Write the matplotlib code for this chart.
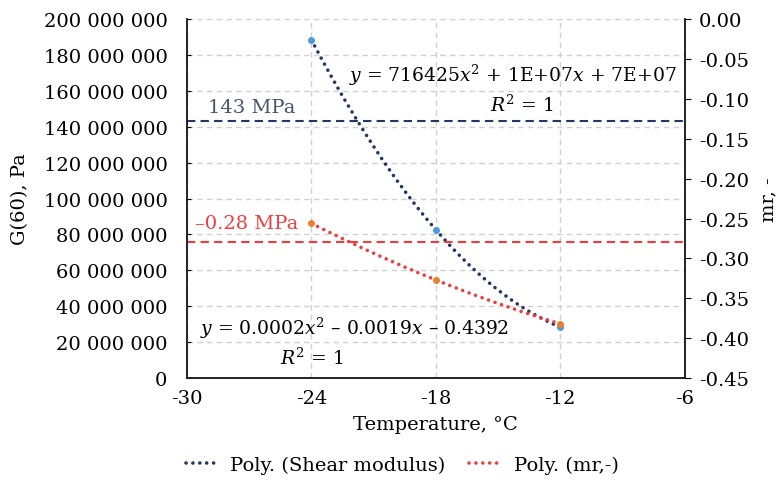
import numpy as np
import matplotlib
matplotlib.use('Agg')
from matplotlib import pyplot as plt
from matplotlib.lines import Line2D
from matplotlib.ticker import FuncFormatter, MultipleLocator

# data
temps = [-24, -18, -12]
shear = [188.5e6, 82.6e6, 28.4e6]     # G(60), Pa
mr = [-0.256, -0.327, -0.382]         # mr, -
shear_ref = 143e6
mr_ref = -0.28

navy = '#203864'
red = '#f23c3c'

plt.rcParams['font.family'] = ['DejaVu Serif']
plt.rcParams['mathtext.fontset'] = 'dejavuserif'
plt.rcParams['font.size'] = 13.5
plt.rcParams['axes.unicode_minus'] = False

fig = plt.figure(figsize=(7.79, 4.81), dpi=100)
ax = fig.add_axes([0.240, 0.212, 0.639, 0.746])
ax2 = ax.twinx()

ax.set_xlim(-30, -6)
ax.set_ylim(0, 200e6)
ax2.set_ylim(-0.45, 0)
ax.xaxis.set_major_locator(MultipleLocator(6))
ax.yaxis.set_major_locator(MultipleLocator(20e6))
ax2.yaxis.set_major_locator(MultipleLocator(0.05))
ax.yaxis.set_major_formatter(FuncFormatter(lambda v, p: '{:,.0f}'.format(v).replace(',', ' ')))
ax2.yaxis.set_major_formatter(FuncFormatter(lambda v, p: '%.2f' % v))

ax.grid(True, color='#d0d0d0', linestyle=(0, (4, 3)), linewidth=1)
ax.set_axisbelow(True)
for a in (ax, ax2):
    a.spines['top'].set_visible(False)
    for s in ('left', 'right', 'bottom'):
        a.spines[s].set_color('#222222')
        a.spines[s].set_linewidth(1.2)
ax.tick_params(axis='x', length=0, pad=8, labelsize=14)
ax.tick_params(axis='y', direction='in', length=3, pad=14, labelsize=14)
ax2.tick_params(axis='y', direction='out', length=4, pad=6, labelsize=14)

# polynomial trendlines (order 2)
xs = np.linspace(temps[0], temps[-1], 200)
p1 = np.polyfit(temps, shear, 2)
p2 = np.polyfit(temps, mr, 2)
dots = (0, (0.01, 1.9))
ax.plot(xs, np.polyval(p1, xs), color=navy, lw=2.6, linestyle=dots, dash_capstyle='round', zorder=3)
ax2.plot(xs, np.polyval(p2, xs), color=red, lw=2.6, linestyle=dots, dash_capstyle='round', zorder=3)
ax.plot(temps, shear, 'o', color='#4e9ad6', ms=4, zorder=4)
ax2.plot(temps, mr, 'o', color='#ed7d31', ms=4, zorder=4)

# reference levels
ax.axhline(shear_ref, color=navy, lw=1.5, dashes=(4, 2.5))
ax2.axhline(mr_ref, color=red, lw=1.5, dashes=(4, 2.5))
ax.text(-29.0, 151e6, '143 MPa', color='#44546a', va='center', ha='left', fontsize=14)
ax.text(-29.6, 86.4e6, '\u20130.28 MPa', color=red, va='center', ha='left', fontsize=14)

ax.text(-14.3, 169.4e6, '$y$ = 716425$x^2$ + 1E+07$x$ + 7E+07', ha='center', va='center')
ax.text(-13.85, 152.6e6, '$R^2$ = 1', ha='center', va='center')
ax.text(-21.9, 28.4e6, '$y$ = 0.0002$x^2$ \u2013 0.0019$x$ \u2013 0.4392', ha='center', va='center')
ax.text(-24.0, 11.7e6, '$R^2$ = 1', ha='center', va='center')

ax.set_xlabel('Temperature, \u00b0C', labelpad=6, fontsize=14)
ax.set_ylabel('G(60), Pa', fontsize=14)
ax.yaxis.set_label_coords(-0.318, 0.5)
ax2.set_ylabel('mr, -', rotation=90, fontsize=14)
ax2.yaxis.set_label_coords(1.149, 0.5)

handles = [Line2D([], [], color=navy, lw=2.6, linestyle=dots, dash_capstyle='round'),
           Line2D([], [], color=red, lw=2.6, linestyle=dots, dash_capstyle='round')]
fig.legend(handles, ['Poly. (Shear modulus)', 'Poly. (mr,-)'], loc='center', ncol=2,
           bbox_to_anchor=(0.516, 0.031), frameon=False, handlelength=1.5, columnspacing=1.2,
           fontsize=14)

fig.savefig('out.png', dpi=100)
